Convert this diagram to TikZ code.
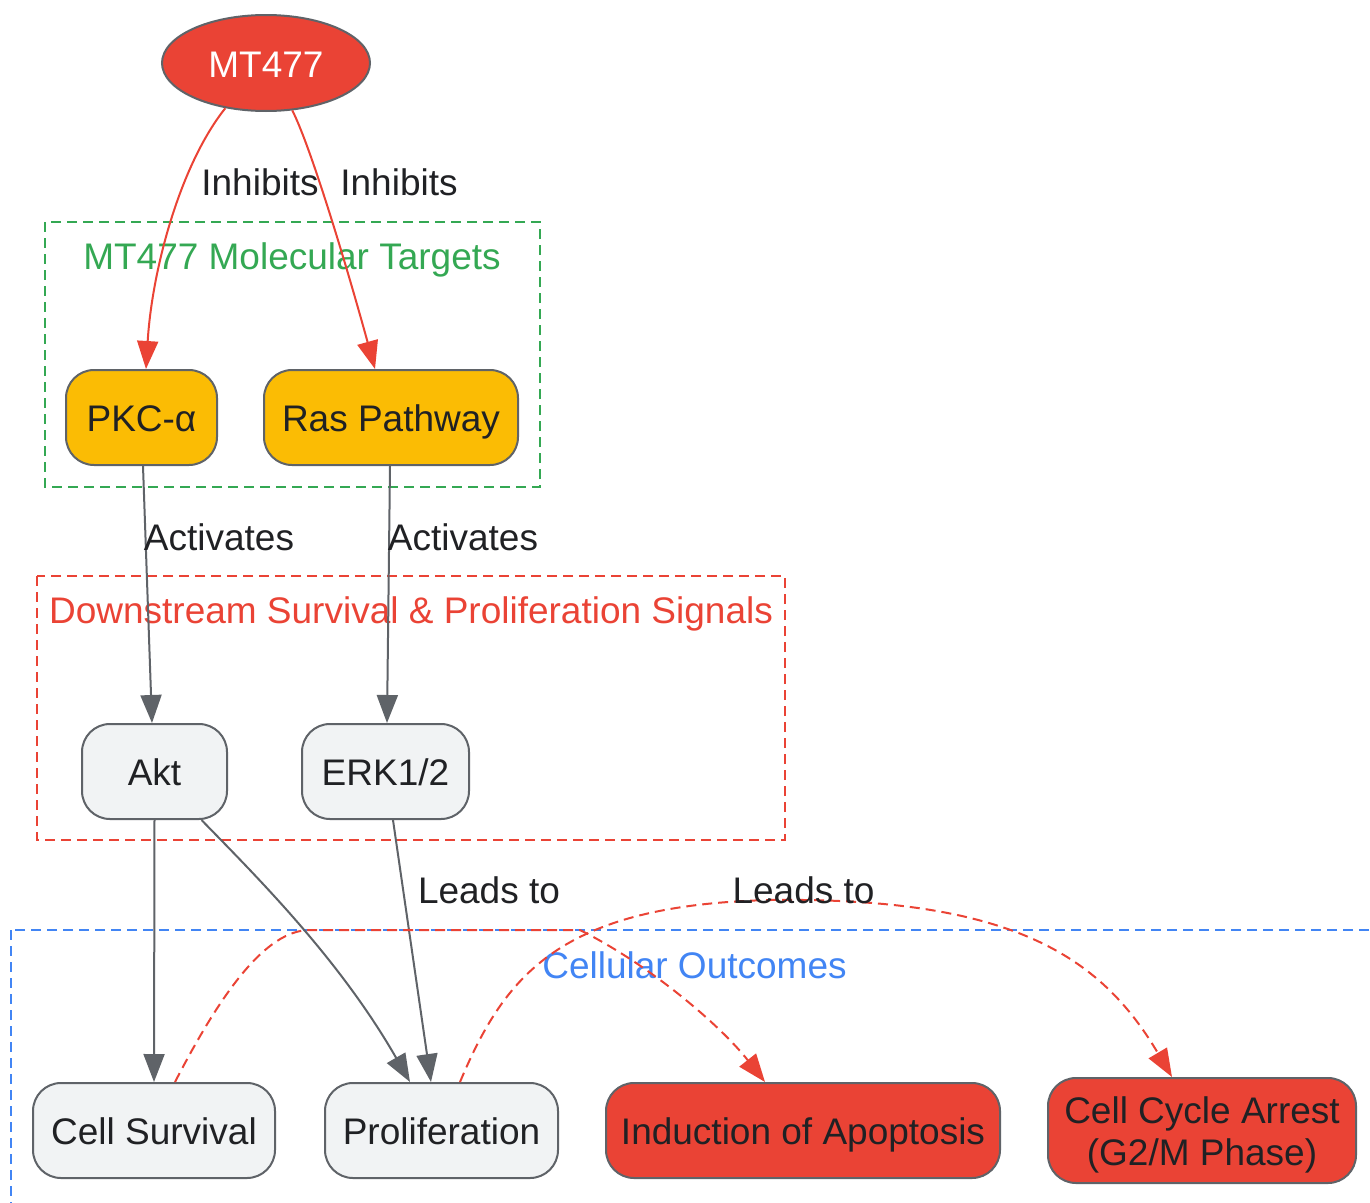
\documentclass[tikz,border=0pt]{standalone}
\usepackage{fontspec}
\setmainfont{Liberation Sans}
\usetikzlibrary{arrows.meta,shapes.geometric}
\definecolor{gred}{HTML}{EA4335}
\definecolor{gyellow}{HTML}{FBBC04}
\definecolor{glight}{HTML}{F1F3F4}
\definecolor{gborder}{HTML}{5F6368}
\definecolor{gtext}{HTML}{202124}
\definecolor{ggreen}{HTML}{34A853}
\definecolor{gblue}{HTML}{4285F4}
\tikzset{
  txt/.style={font=\fontsize{37}{42}\selectfont, text height=28pt, text depth=0pt},
  box/.style={txt, draw=gborder, line width=2pt, rounded corners=28pt, inner sep=0pt,
    text=gtext, align=center},
  yellowbox/.style={box, fill=gyellow},
  greybox/.style={box, fill=glight},
  redbox/.style={box, fill=gred},
  grp/.style={dash pattern=on 10pt off 6pt, line width=2pt},
  grplabel/.style={txt, inner sep=0pt},
  elabel/.style={txt, text=gtext, inner sep=0pt},
  redarrow/.style={draw=gred, line width=2pt, -{Triangle[length=28pt,width=21pt]}},
  greyarrow/.style={draw=gborder, line width=2pt, -{Triangle[length=28pt,width=21pt]}},
  reddash/.style={redarrow, dash pattern=on 10pt off 6pt},
}
\begin{document}
\begin{tikzpicture}[x=1pt,y=-1pt]
\useasboundingbox (0,0) rectangle (1370,1202);
\clip (0,0) rectangle (1370,1202);
% groups
\draw[grp, draw=ggreen] (45,222) rectangle (540,487);
\node[grplabel, text=ggreen] (lgreen) at (292,255) {MT477 Molecular Targets};
\draw[grp, draw=gred] (37,576) rectangle (785,840);
\node[grplabel, text=gred] (lred) at (411,609.5) {Downstream Survival \& Proliferation Signals};
\draw[grp, draw=gblue] (11,930) rectangle (1390,1230);
\node[grplabel, text=gblue] (lblue) at (694.5,964) {Cellular Outcomes};
% nodes
\node[ellipse, txt, draw=gborder, line width=2pt, fill=gred, minimum width=208pt, minimum height=96pt,
  inner sep=0pt, text=white] (mt) at (266,63) {MT477};
\node[yellowbox, minimum width=151pt, minimum height=95pt] (pkc) at (141.5,417.5) {PKC-α};
\node[yellowbox, minimum width=254pt, minimum height=95pt] (ras) at (391,417.5) {Ras Pathway};
\node[greybox, minimum width=145pt, minimum height=95pt] (akt) at (154.5,771.5) {Akt};
\node[greybox, minimum width=167pt, minimum height=95pt] (erk) at (385.5,771.5) {ERK1/2};
\node[greybox, minimum width=242pt, minimum height=95pt] (surv) at (154,1130.5) {Cell Survival};
\node[greybox, minimum width=233pt, minimum height=95pt] (prol) at (441.5,1130.5) {Proliferation};
\node[redbox, minimum width=394pt, minimum height=95pt] (apop) at (803,1130.5) {Induction of Apoptosis};
\node[redbox, text height=70pt, text depth=0pt, minimum width=308pt, minimum height=105pt] (cca) at (1202,1130.5) {Cell Cycle Arrest\\(G2/M Phase)};
% edges
\draw[redarrow] (mt.228) .. controls (180,165) and (152,270) .. ([xshift=4.5pt]pkc.north);
\node[elabel] (l1) at (260,181) {Inhibits};
\draw[redarrow] (mt.299) .. controls (310,145) and (345,260) .. ([xshift=-16pt]ras.north);
\node[elabel] (l2) at (399,181) {Inhibits};
\draw[greyarrow] ([xshift=1.5pt]pkc.south) -- ([xshift=-2.5pt]akt.north);
\node[elabel] (l3) at (219,536) {Activates};
\draw[greyarrow] ([xshift=-1pt]ras.south) -- ([xshift=1.5pt]erk.north);
\node[elabel] (l4) at (463,536) {Activates};
\draw[greyarrow] (akt.south) -- (surv.north);
\draw[greyarrow] ([xshift=47pt]akt.south) .. controls (260,880) and (340,960) .. ([xshift=-31.5pt]prol.north);
\draw[greyarrow] ([xshift=7.5pt]erk.south) -- ([xshift=-10.5pt]prol.north);
\node[elabel] (l5) at (489,889) {Leads to};
\draw[reddash] ([xshift=21pt]surv.north) .. controls (220,995) and (265,930) .. (310,930)
  -- (580,930) .. controls (650,965) and (720,1025) .. ([xshift=-38pt]apop.north);
\draw[reddash] ([xshift=18.5pt]prol.north) .. controls (505,975) and (560,905) .. (770,900)
  .. controls (1010,897) and (1100,955) .. ([xshift=-30pt]cca.north);
\node[elabel] (l6) at (803.5,889) {Leads to};
\end{tikzpicture}
\end{document}
